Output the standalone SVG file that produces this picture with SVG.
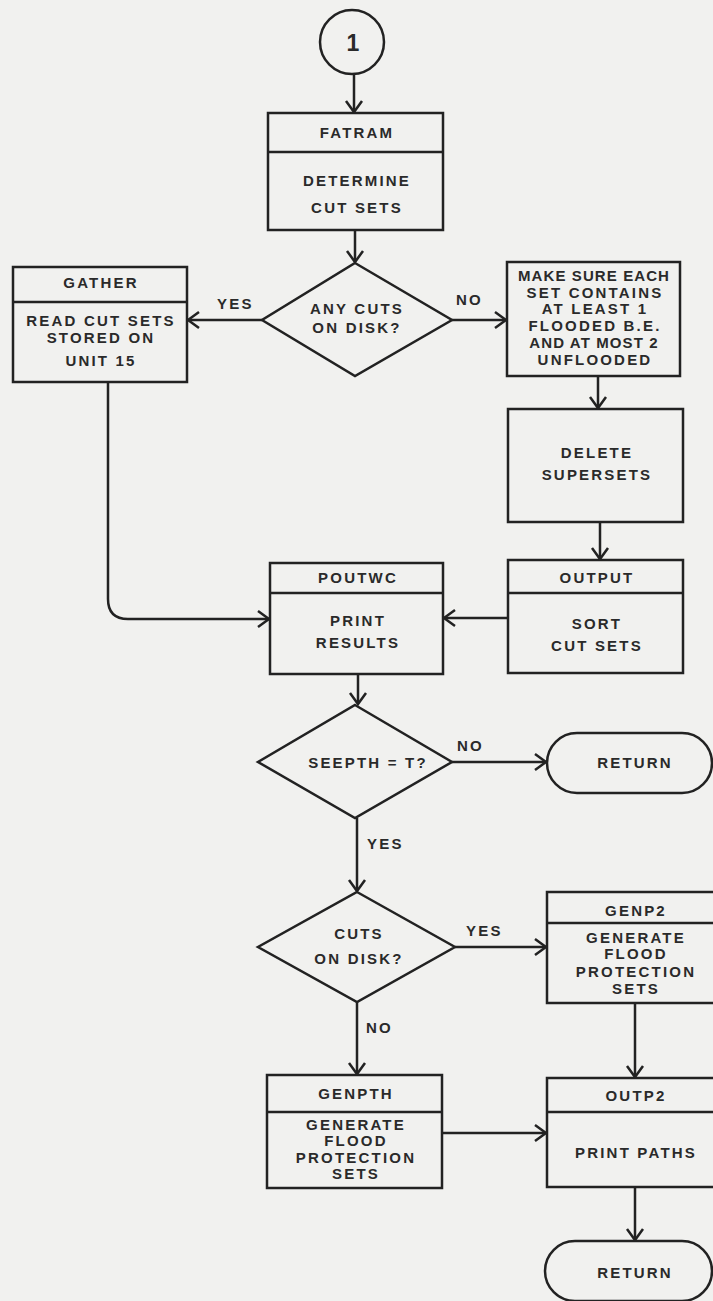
<svg xmlns="http://www.w3.org/2000/svg" width="713" height="1301" viewBox="0 0 713 1301">
<style>
.s{fill:none;stroke:#222;stroke-width:2.5;stroke-linejoin:round}
.b{fill:#f1f1ef;stroke:#222;stroke-width:2.5}
text{font-family:"Liberation Sans",Arial,sans-serif;font-weight:bold;font-size:15px;letter-spacing:2.2px;fill:#2a2a2a;text-anchor:middle}
.l{text-anchor:start}
.t{letter-spacing:1.1px}
.c{stroke:#222;stroke-width:2.5;fill:none}
</style>
<defs>
<marker id="a" markerUnits="userSpaceOnUse" markerWidth="24" markerHeight="24" refX="12" refY="12" orient="auto" overflow="visible">
<path d="M1 4 L12 12 L1 20" fill="none" stroke="#222" stroke-width="2.5" stroke-linejoin="miter"/>
</marker>
</defs>
<rect width="713" height="1301" fill="#f1f1ef"/>

<g id="connectors">
<path class="c" d="M354 75 V112" marker-end="url(#a)"/>
<path class="c" d="M355 230 V262" marker-end="url(#a)"/>
<path class="c" d="M262 320 H188" marker-end="url(#a)"/>
<text class="l" x="217" y="309">YES</text>
<path class="c" d="M452 320 H506" marker-end="url(#a)"/>
<text class="l" x="456" y="305">NO</text>
<path class="c" d="M598 376 V408" marker-end="url(#a)"/>
<path class="c" d="M600 522 V559" marker-end="url(#a)"/>
<path class="c" d="M508 618 H444" marker-end="url(#a)"/>
<path class="c" d="M108 382 V599 Q108 619 128 619 H269" marker-end="url(#a)"/>
<path class="c" d="M358 674 V704" marker-end="url(#a)"/>
<path class="c" d="M452 762 H546" marker-end="url(#a)"/>
<text class="l" x="457" y="751">NO</text>
<path class="c" d="M357 818 V891" marker-end="url(#a)"/>
<text class="l" x="367" y="849">YES</text>
<path class="c" d="M455 947 H546" marker-end="url(#a)"/>
<text class="l" x="466" y="936">YES</text>
<path class="c" d="M635 1003 V1077" marker-end="url(#a)"/>
<path class="c" d="M357 1002 V1074" marker-end="url(#a)"/>
<text class="l" x="366" y="1033">NO</text>
<path class="c" d="M442 1133 H546" marker-end="url(#a)"/>
<path class="c" d="M635 1187 V1240" marker-end="url(#a)"/>
</g>

<g id="start">
<circle class="b" cx="352" cy="42" r="32"/>
<text x="353" y="51" style="font-size:23px;letter-spacing:0">1</text>
</g>

<g id="fatram">
<rect class="b" x="268" y="113" width="175" height="117"/>
<line class="s" x1="268" y1="152" x2="443" y2="152"/>
<text x="357" y="138">FATRAM</text>
<text x="357" y="186">DETERMINE</text>
<text x="357" y="213">CUT SETS</text>
</g>

<g id="anycuts">
<polygon class="b" points="355,263 452,320 355,376 262,320"/>
<text x="357" y="314">ANY CUTS</text>
<text x="357" y="333">ON DISK?</text>
</g>

<g id="gather">
<rect class="b" x="13" y="267" width="174" height="115"/>
<line class="s" x1="13" y1="302" x2="187" y2="302"/>
<text x="101" y="288">GATHER</text>
<text x="101" y="326">READ CUT SETS</text>
<text x="101" y="343">STORED ON</text>
<text x="101" y="366">UNIT 15</text>
</g>

<g id="makesure">
<rect class="b" x="507" y="262" width="173" height="114"/>
<text class="t" x="594" y="281">MAKE SURE EACH</text>
<text x="595" y="298">SET CONTAINS</text>
<text x="595" y="314">AT LEAST 1</text>
<text x="595" y="331">FLOODED B.E.</text>
<text class="t" x="594" y="348">AND AT MOST 2</text>
<text x="595" y="365">UNFLOODED</text>
</g>

<g id="delete">
<rect class="b" x="508" y="409" width="175" height="113"/>
<text x="597" y="458">DELETE</text>
<text x="597" y="480">SUPERSETS</text>
</g>

<g id="output">
<rect class="b" x="508" y="560" width="175" height="113"/>
<line class="s" x1="508" y1="593" x2="683" y2="593"/>
<text x="597" y="583">OUTPUT</text>
<text x="597" y="629">SORT</text>
<text x="597" y="651">CUT SETS</text>
</g>

<g id="poutwc">
<rect class="b" x="270" y="563" width="173" height="111"/>
<line class="s" x1="270" y1="593" x2="443" y2="593"/>
<text x="358" y="583">POUTWC</text>
<text x="358" y="626">PRINT</text>
<text x="358" y="648">RESULTS</text>
</g>

<g id="seepth">
<polygon class="b" points="355,705 452,762 355,818 258,762"/>
<text x="368" y="768">SEEPTH = T?</text>
</g>

<g id="return1">
<rect class="b" x="547" y="733" width="165" height="60" rx="30" ry="30"/>
<text x="635" y="768">RETURN</text>
</g>

<g id="cutsdisk">
<polygon class="b" points="357,892 455,947 357,1002 258,947"/>
<text x="359" y="939">CUTS</text>
<text x="359" y="964">ON DISK?</text>
</g>

<g id="genp2">
<rect class="b" x="547" y="892" width="176" height="111"/>
<line class="s" x1="547" y1="923" x2="723" y2="923"/>
<text x="636" y="916">GENP2</text>
<text x="636" y="943">GENERATE</text>
<text x="636" y="959">FLOOD</text>
<text x="636" y="977">PROTECTION</text>
<text x="636" y="994">SETS</text>
</g>

<g id="genpth">
<rect class="b" x="267" y="1075" width="175" height="113"/>
<line class="s" x1="267" y1="1112" x2="442" y2="1112"/>
<text x="356" y="1099">GENPTH</text>
<text x="356" y="1130">GENERATE</text>
<text x="356" y="1146">FLOOD</text>
<text x="356" y="1163">PROTECTION</text>
<text x="356" y="1179">SETS</text>
</g>

<g id="outp2">
<rect class="b" x="547" y="1078" width="176" height="109"/>
<line class="s" x1="547" y1="1112" x2="723" y2="1112"/>
<text x="636" y="1101">OUTP2</text>
<text x="636" y="1158">PRINT PATHS</text>
</g>

<g id="return2">
<rect class="b" x="545" y="1241" width="167" height="60" rx="30" ry="30"/>
<text x="635" y="1278">RETURN</text>
</g>
</svg>
